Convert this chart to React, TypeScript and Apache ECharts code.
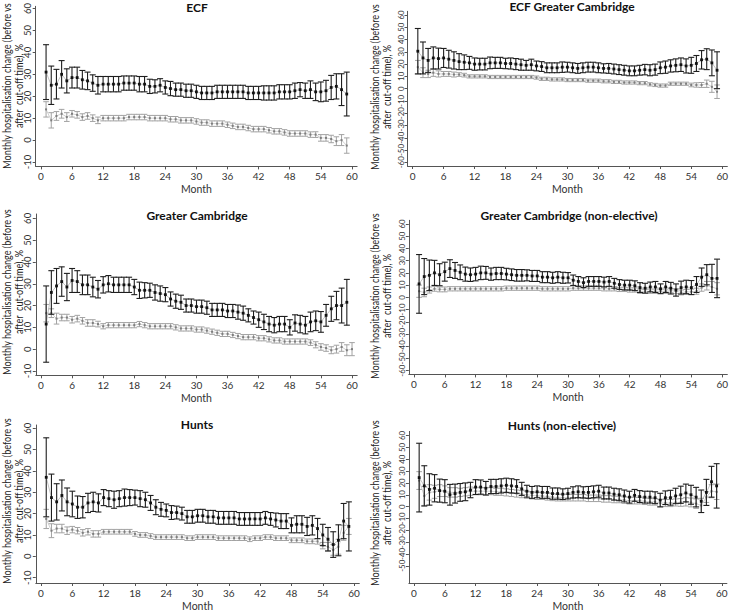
import React, { useEffect, useRef } from "react";
import * as echarts from "echarts";

const MONTHS = [1,2,3,4,5,6,7,8,9,10,11,12,13,14,15,16,17,18,19,20,21,22,23,24,25,26,27,28,29,30,31,32,33,34,35,36,37,38,39,40,41,42,43,44,45,46,47,48,49,50,51,52,53,54,55,56,57,58,59,60];
const X_TICKS = [0,6,12,18,24,30,36,42,48,54,60];
const Y_TICKS_NARROW = [-10,0,10,20,30,40,50,60];
const Y_TICKS_WIDE = [-60,-50,-40,-30,-20,-10,0,10,20,30,40,50,60];
const TITLES = ["ECF","ECF Greater Cambridge","Greater Cambridge","Greater Cambridge (non-elective)","Hunts","Hunts (non-elective)"];
const Y_NAME = "Monthly hospitalisation change (before vs\nafter  cut-off time), %";
const X_NAME = "Month";

// ECF
const ECF_BLACK_MEAN = [31,25,25.5,30,27,28.5,28.5,27.5,27,26,25,25.5,25.5,25.5,25.5,26,26,26,25.5,25.5,24.5,24.5,25,24,23.5,23,23,22.5,22.5,22,21.5,21.5,21.5,22,22,22,22,22,22,21.5,21.5,21.5,21.5,21.5,21.5,22,22,22,22.5,23,22.5,23,22,22,22.5,24,24.5,23,21];
const ECF_BLACK_ERR = [12.5,8.75,6.75,6.25,5.5,4.75,4.75,4.25,4,3.75,4,3.5,3.5,3.5,3.5,3.25,3.25,3.25,3.5,3.5,3.25,3,3,3,3.25,3,3,3,3,3,3,3,3,3,3,3,3,3,3,3,3,3,3.25,3.25,3.25,3.25,3.25,3.25,3.5,3.25,3.5,4,4,4.5,4.75,5.5,5.75,7.25,10];
const ECF_GREY_MEAN = [14,9,11,12,10.5,12,11.5,10.5,11,10,9,10,10,10,10,10,10.5,10.5,10.5,10.5,10,10,10,10,9.5,9.5,9,9,9,8.5,8,8,7.5,7.5,7.5,7,6.5,6,6,5.5,5,5,5,4.5,4,4,3.5,3,3,3,3,2.5,2.5,1,1,0.5,-0.5,0,-2.5];
const ECF_GREY_ERR = [3.5,3.5,2,2,2,1.5,1.5,1.5,1.5,1.5,1.5,1.25,1.25,1.25,1.25,1.25,1.25,1.25,1.25,1.25,1.25,1.25,1.25,1.25,1.25,1.25,1.25,1.25,1.25,1.25,1.25,1.25,1.25,1.25,1.25,1.25,1.25,1.25,1.25,1.25,1.25,1.25,1.25,1.25,1.25,1.25,1.25,1.25,1.25,1.25,1.25,1.25,1.3,1.5,1.5,1.7,2,2.5,3.5];

// ECF Greater Cambridge
const ECFGC_BLACK_MEAN = [30.5,25,23,25,24.5,25,24,23,22,21.5,21,20,20,20,21,21,21,20.5,20.5,20,19.5,19,19.5,18.5,18,17,17,17,17.5,17.5,17,16.5,17,17.5,17.5,17,16.5,16.5,16,15.5,15,14.5,14.5,15,15.5,15,15.5,17,17.5,18.5,19,19.5,18.5,19,20.5,23.5,24,21,15];
const ECFGC_BLACK_ERR = [18.5,13,9.75,9,8.5,7.75,7.25,7,6.5,6,5.25,5,4.75,4.75,4.75,4.5,4.5,4.25,4.5,4.5,4.5,4,4.5,4,4,4,4,4,4.25,4,4,4,4,4,4,4,3.75,4,4,4,4,4,4,4,4.25,4.5,4.5,4.75,5,5,5.25,5.5,5.75,6.5,6.5,7.5,8.5,10.5,15];
const ECFGC_GREY_MEAN = [17.5,13,12,13,12,12,12,11.5,11.5,11,10,10,10,10,9.5,9.5,9.5,9.5,9.5,9.5,9.5,9.5,9.5,9,8,8,7.5,7.5,7.5,7,7,7,7,6.5,6.5,6.5,6,6,5.5,5.5,5,5,5,4.5,4.5,3.5,3,2.5,2.5,4,4,4,4,3,3,3,4,1.5,-2.5];
const ECFGC_GREY_ERR = [5.5,4,3,3,2.5,2,2,2,1.5,1.5,1.3,1.3,1.3,1.3,1.3,1.3,1.3,1.3,1.3,1.3,1.3,1.3,1.3,1.3,1.3,1.3,1.3,1.3,1.3,1.3,1.3,1.3,1.3,1.3,1.3,1.3,1.3,1.3,1.3,1.3,1.3,1.3,1.3,1.3,1.3,1.3,1.3,1.3,1.3,1.3,1.3,1.3,1.3,1.5,1.8,2,3,4.5,5.5];

// Greater Cambridge
const GC_BLACK_MEAN = [11.5,26,29,31,28.5,31.5,31,29.5,29.5,28.5,27.5,29.5,30,29.5,29.5,29.5,29.5,28.5,27,27,27,26,25.5,25,23,22,21.5,20,20,19.5,19.5,19,18,18,18,17.5,17.5,17,16.5,15.5,14.5,13.5,12.5,11.5,11,11.5,11.5,10,12,11.5,11,12.5,13,12.5,15.5,18.5,20,20,21.5];
const GC_BLACK_ERR = [17.5,10,8,6.75,6.25,5.5,5,4.5,4.5,4.5,4,3.75,3.75,3.5,3.5,3.5,3.5,3.5,3.75,3.5,3.25,3.5,3.5,3.25,3.25,3.25,3.25,3,3,3,3,3,3,3,3,3,3,3.25,3.25,3,3,3.5,3.5,3.5,3.5,3.5,3.5,3.5,3.75,4,4,4.5,4.5,4.75,5,5.75,6.5,8,10.5];
const GC_GREY_MEAN = [16.5,16.5,14,14.5,14.5,13.5,14,13,12,12,11.5,10.5,11,11,11,11,11,11,11.5,11,10.5,10.5,10.5,10.5,10.5,10,9.5,9.5,9.5,9,9,8.5,8,7.5,7,7,6.5,6,5.5,5.5,5.5,5,5,4.5,4,4,3.5,3.5,3.5,3.5,3.5,3,2,1,0.5,-0.5,0,1,-0.5,0];
const GC_GREY_ERR = [4,2,2.5,1.5,1.5,1.5,1.5,1.5,1.5,1.5,1.3,1.2,1.2,1.2,1.2,1.2,1.2,1.2,1.2,1.2,1.2,1.2,1.2,1.2,1.2,1.2,1.2,1.2,1.2,1.2,1.2,1.2,1.2,1.2,1.2,1.2,1.2,1.2,1.2,1.2,1.2,1.2,1.2,1.2,1.2,1.2,1.2,1.2,1.2,1.2,1.2,1.3,1.4,1.5,1.5,1.6,1.8,2,2.5,3];

// Greater Cambridge (non-elective)
const GCNE_BLACK_MEAN = [11,17,18,20,18.5,21,23.5,22,20.5,19,18.5,19,20,20,19,19.5,19.5,19,18.5,18,18,18,17.5,17.5,16.5,16.5,16,16.5,16,16,14,13,12,13,13,13,12.5,13,11.5,10.5,10,10,9.5,8,7.5,8.5,8.5,7,8.5,7.5,6,8,8.5,8,10.5,16.5,18.5,15.5,15.5];
const GCNE_BLACK_ERR = [24,14.75,12.5,10.25,9,7.75,7.25,6.5,6,5.75,5.5,5.5,5.5,5.25,5,5,5,4.75,4.75,4.75,4.75,4.5,4.5,4.5,4.5,4.5,4.5,4.5,4.5,4.25,4.25,4,4,4,4,4,4,4,4,4,4,4,4,4,4,4,4.5,4,4.5,4.75,5,5.25,5.5,5.75,6.5,7.5,8.25,11.5,15.75];
const GCNE_GREY_MEAN = [5,4,6,7,6.5,6.5,7,7,7,7,7,7,7,7,7,7,7,7.5,7.5,7.5,7.5,7.5,7.5,7.5,7,7,7,7,7,7,7.5,7.5,7.5,7.5,7.5,7.5,7,7,7,6.5,6.5,6,6,5,5,5,5,5,5,5.5,5,4,4.5,4.5,5,8,9.5,8.5,7];
const GCNE_GREY_ERR = [5,3.5,2.5,2,2,2,1.75,1.75,1.75,1.75,1.75,1.75,1.75,1.75,1.75,1.75,1.75,1.75,1.75,1.75,1.75,1.75,1.75,1.75,1.75,1.75,1.75,1.75,1.75,1.75,1.75,1.75,1.75,1.75,1.75,1.75,1.75,1.75,1.75,1.75,1.75,1.75,1.75,1.75,1.75,1.75,1.75,1.75,1.75,1.75,2,2,2,2.2,2.5,3,3.5,4.5,5];

// Hunts
const HUNTS_BLACK_MEAN = [37,27.5,25.5,28.5,25.5,24.5,23,23,25,25.5,25,27.5,27,26.5,27,27.5,27.5,27.5,27,26.5,25,23,22,21.5,20.5,20.5,20,18.5,18.5,19,19,18.5,18.5,18,18,18,18,17.5,17.5,17.5,17.5,17.5,18,17.5,17,16.5,16.5,14.5,15,15,14,14.5,13,10,8,5.5,7.5,16.5,14];
const HUNTS_BLACK_ERR = [18.5,11,8.5,7.25,6.5,6,5.25,5,4.5,4.5,4.25,3.75,3.75,4,3.75,4,3.75,3.5,3.75,3.5,3.5,3.5,3.25,3,3.25,3,3,3,3,3,3,3,3,3,3,3,3,3,3,3,3,3,3,3,3.25,3.5,3.5,3.5,4,4,4.25,4.5,4.75,5,5.5,6,7.25,8.25,11.5];
const HUNTS_GREY_MEAN = [17.5,12,13,13,12,12.5,12,11,11.5,10.5,10.5,11.5,11.5,11.5,11.5,11.5,11.5,10.5,10,10,9.5,9,9,9,9,9,9,8.5,8.5,9,9,9,9,8.5,8.5,8.5,8.5,8.5,8.5,8,8.5,8.5,9,9,8.5,8.5,8.5,7.5,7.5,7.5,7,7,7,5,4.5,3,4.5,11,14];
const HUNTS_GREY_ERR = [4.5,3.25,2,2,1.75,1.5,1.5,1.5,1.5,1.5,1.5,1.1,1.1,1.1,1.1,1.1,1.1,1.1,1.1,1.1,1.1,1.1,1.1,1.1,1.1,1.1,1.1,1.1,1.1,1.1,1.1,1.1,1.1,1.1,1.1,1.1,1.1,1.1,1.1,1.1,1.1,1.1,1.1,1.1,1.1,1.1,1.1,1.1,1.1,1.1,1.1,1.1,1.3,1.5,2,2.5,3.5,3.5,3.75];

// Hunts (non-elective)
const HUNTSNE_BLACK_MEAN = [24.5,17.5,14.5,15.5,13.5,13,10,11,12,12.5,14,16.5,16.5,15.5,17,17,17.5,18,17.5,17,15,13,12,12.5,12,12,11,11,10.5,11,12,12.5,12,12,12.5,13,11.5,11.5,10.5,10,9,8,9.5,8.5,8,8,7.5,5.5,7.5,7.5,9,10,11.5,10,8,4.5,12,21,17.5];
const HUNTSNE_BLACK_ERR = [29,17,13.25,11.5,9.75,9.75,8.75,8,7.5,7.5,6.5,6.25,6,5.75,6,6,6,6,6,5.75,5.5,5,5,5,5,5,4.75,4.75,4.5,4.5,4.75,5,4.75,5,5,5,5,5,5,5,5,5,5,5,5,5,5,5.75,5.75,6.25,6.5,7.25,7.5,8,8.25,9.5,11,13,18.75];
const HUNTSNE_GREY_MEAN = [22,9,12,12.5,13.5,13,12,12,12,12.5,13,13,13,13,13,12.5,12.5,12,11.5,11,10.5,10,9.5,9,9,8.5,8,7.5,7.5,7.5,7.5,7.5,7.5,7,7,7,6.5,6.5,6,6,5.5,5,5,5,4.5,4,4,3,3,3,3.5,3.5,4,3.5,2.5,1,8,13,12.5];
const HUNTSNE_GREY_ERR = [7.5,8,6.5,5.5,5,4.5,4,4,3.5,3.5,3.5,3,3,3,3,3,3,3,3,3,3,3,3,3,3,3,3,2.75,2.75,2.75,2.75,2.75,2.75,2.75,2.75,2.75,2.75,2.75,2.75,2.75,2.75,2.75,2.75,2.75,2.75,2.75,2.75,3,3,3,3,3.25,3.5,3.75,4,6,4.5,5.5,6.5];

const PANEL_DATA = [
  { black: [ECF_BLACK_MEAN, ECF_BLACK_ERR], grey: [ECF_GREY_MEAN, ECF_GREY_ERR], wide: false },
  { black: [ECFGC_BLACK_MEAN, ECFGC_BLACK_ERR], grey: [ECFGC_GREY_MEAN, ECFGC_GREY_ERR], wide: true },
  { black: [GC_BLACK_MEAN, GC_BLACK_ERR], grey: [GC_GREY_MEAN, GC_GREY_ERR], wide: false },
  { black: [GCNE_BLACK_MEAN, GCNE_BLACK_ERR], grey: [GCNE_GREY_MEAN, GCNE_GREY_ERR], wide: true },
  { black: [HUNTS_BLACK_MEAN, HUNTS_BLACK_ERR], grey: [HUNTS_GREY_MEAN, HUNTS_GREY_ERR], wide: false },
  { black: [HUNTSNE_BLACK_MEAN, HUNTSNE_BLACK_ERR], grey: [HUNTSNE_GREY_MEAN, HUNTSNE_GREY_ERR], wide: true },
];

// layout (pixels)
const LAYOUT = [
  { left: 35.7, top: 5.1, width: 321.4, height: 161.3, ymin: -12, ymax: 61, tx: 197, ty: 1, nx: 13, ny: 86 },
  { left: 407.5, top: 11.3, width: 321.4, height: 154.7, ymin: -63, ymax: 63, tx: 572, ty: 0, nx: 380.5, ny: 87 },
  { left: 35.8, top: 214, width: 321.4, height: 161.3, ymin: -12, ymax: 62, tx: 197, ty: 209, nx: 13, ny: 292 },
  { left: 408.8, top: 220.3, width: 320, height: 154.1, ymin: -63, ymax: 63, tx: 569, ty: 209, nx: 380.5, ny: 296 },
  { left: 35.8, top: 425, width: 323.5, height: 162, ymin: -12.5, ymax: 61.5, tx: 197, ty: 418, nx: 13, ny: 501 },
  { left: 408.9, top: 431.4, width: 318, height: 155.7, ymin: -64.5, ymax: 63.5, tx: 562, ty: 419, nx: 380.5, ny: 503 },
];

const FONT = "Lato, 'Open Sans', sans-serif";
const AXIS_COLOR = "#555";

function errorBarRenderer(color: string, markerColor: string, markerSize: number, capHalf: number, lw: number) {
  return (_params: any, api: any) => {
    const x = api.value(0);
    const m = api.value(1);
    const e = api.value(2);
    const top = api.coord([x, m + e]);
    const bot = api.coord([x, m - e]);
    const mid = api.coord([x, m]);
    const st = () => ({ stroke: color, lineWidth: lw, fill: null });
    return {
      type: "group",
      children: [
        { type: "line", shape: { x1: top[0], y1: top[1], x2: bot[0], y2: bot[1] }, style: st() },
        { type: "line", shape: { x1: top[0] - capHalf, y1: top[1], x2: top[0] + capHalf, y2: top[1] }, style: st() },
        { type: "line", shape: { x1: bot[0] - capHalf, y1: bot[1], x2: bot[0] + capHalf, y2: bot[1] }, style: st() },
        { type: "rect", shape: { x: mid[0] - markerSize / 2, y: mid[1] - markerSize / 2, width: markerSize, height: markerSize }, style: { fill: markerColor } },
      ],
    };
  };
}

export default function App() {
  const ref = useRef<HTMLDivElement>(null);
  useEffect(() => {
    document.body.style.margin = "0";
    if (!ref.current) return;
    const chart = echarts.init(ref.current, undefined, { renderer: "svg" });
    const grids: any[] = [];
    const xAxes: any[] = [];
    const yAxes: any[] = [];
    const series: any[] = [];
    const titles: any[] = [];
    const graphics: any[] = [];
    PANEL_DATA.forEach((p, i) => {
      const L = LAYOUT[i];
      const yTicks = p.wide ? Y_TICKS_WIDE : Y_TICKS_NARROW;
      grids.push({ left: L.left, top: L.top, width: L.width, height: L.height, containLabel: false });
      xAxes.push({
        type: "value", gridIndex: i, min: -1, max: 61,
        name: X_NAME, nameLocation: "middle", nameGap: 17,
        nameTextStyle: { fontFamily: FONT, fontSize: 10.5, color: "#333" },
        axisLine: { show: true, onZero: false, lineStyle: { color: AXIS_COLOR, width: 1 } },
        axisTick: { show: true, length: 3, customValues: X_TICKS, lineStyle: { color: AXIS_COLOR } },
        axisLabel: { customValues: X_TICKS, fontFamily: FONT, fontSize: 10, color: "#333", margin: 5, hideOverlap: false },
        splitLine: { show: false },
      });
      yAxes.push({
        type: "value", gridIndex: i, min: L.ymin, max: L.ymax,
        axisLine: { show: true, onZero: false, lineStyle: { color: AXIS_COLOR, width: 1 } },
        axisTick: { show: true, length: 3, customValues: yTicks, lineStyle: { color: AXIS_COLOR } },
        axisLabel: {
          customValues: yTicks, rotate: 90, hideOverlap: false,
          fontFamily: FONT, fontSize: p.wide ? 7.9 : 9.5, color: "#333", margin: 3,
        },
        splitLine: { show: false },
      });
      titles.push({
        text: TITLES[i], left: L.tx, top: L.ty, textAlign: "center", padding: 0,
        textStyle: { fontFamily: FONT, fontSize: 12, fontWeight: "bold", color: "#111" },
      });
      graphics.push({
        type: "text", x: L.nx, y: L.ny, rotation: Math.PI / 2, scaleX: 0.79, silent: true,
        style: { text: Y_NAME, fontFamily: FONT, fontSize: 11.5, fill: "#222", align: "center", verticalAlign: "middle", lineHeight: 12 },
      });
      const [gm, ge] = p.grey;
      const [bm, be] = p.black;
      const greyData = gm.map((v, k) => [MONTHS[k], v, ge[k]]);
      const blackData = bm.map((v, k) => [MONTHS[k], v, be[k]]);
      series.push({
        type: "line", xAxisIndex: i, yAxisIndex: i, data: greyData.map((d) => [d[0], d[1]]),
        symbol: "none", silent: true, z: 1, lineStyle: { color: "#d0d0d0", width: 1 },
      });
      series.push({
        type: "line", xAxisIndex: i, yAxisIndex: i, data: blackData.map((d) => [d[0], d[1]]),
        symbol: "none", silent: true, z: 1, lineStyle: { color: "#c4c4c4", width: 1 },
      });
      series.push({
        type: "custom", xAxisIndex: i, yAxisIndex: i, data: greyData, z: 2, clip: false,
        encode: { x: 0, y: [1] },
        renderItem: errorBarRenderer("#a3a3a3", "#7d7d7d", 2, 2.8, 1),
      });
      series.push({
        type: "custom", xAxisIndex: i, yAxisIndex: i, data: blackData, z: 3, clip: false,
        encode: { x: 0, y: [1] },
        renderItem: errorBarRenderer("#1e1e1e", "#111", 2.8, 3, 1.1),
      });
    });
    chart.setOption({
      animation: false,
      backgroundColor: "#ffffff",
      textStyle: { fontFamily: FONT },
      title: titles,
      grid: grids,
      xAxis: xAxes,
      yAxis: yAxes,
      series,
      graphic: graphics,
    });
    return () => chart.dispose();
  }, []);
  return <div ref={ref} style={{ position: "absolute", left: 0, top: 0, width: 731, height: 612 }} />;
}
